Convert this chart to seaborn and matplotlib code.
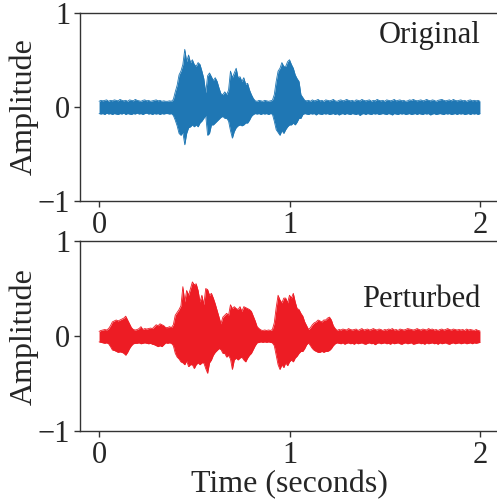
import numpy as np
import pandas as pd
import matplotlib
matplotlib.use("Agg")
import matplotlib.pyplot as plt
import seaborn as sns

# Peak envelope of each recording, sampled every 10 ms from 0 to 2 s
time_s = [round(0.01 * i, 2) for i in range(201)]

original_upper = [
    0.06, 0.07, 0.065, 0.07, 0.075, 0.06, 0.07, 0.065, 0.075, 0.07,
    0.065, 0.08, 0.07, 0.065, 0.07, 0.06, 0.075, 0.07, 0.065, 0.08,
    0.07, 0.065, 0.06, 0.07, 0.075, 0.065, 0.07, 0.06, 0.065, 0.07,
    0.075, 0.065, 0.07, 0.06, 0.065, 0.06, 0.06, 0.065, 0.06, 0.08,
    0.16, 0.23, 0.34, 0.38, 0.45, 0.61, 0.48, 0.55, 0.47, 0.50,
    0.45, 0.43, 0.47, 0.45, 0.38, 0.30, 0.15, 0.33, 0.36, 0.32,
    0.28, 0.31, 0.27, 0.20, 0.14, 0.13, 0.16, 0.13, 0.18, 0.38,
    0.31, 0.36, 0.41, 0.31, 0.32, 0.27, 0.31, 0.24, 0.25, 0.18,
    0.13, 0.09, 0.065, 0.06, 0.07, 0.065, 0.06, 0.07, 0.065, 0.06,
    0.065, 0.07, 0.13, 0.27, 0.38, 0.41, 0.47, 0.43, 0.43, 0.48,
    0.50, 0.45, 0.41, 0.34, 0.30, 0.27, 0.13, 0.10, 0.07, 0.065,
    0.07, 0.06, 0.075, 0.065, 0.07, 0.08, 0.065, 0.07, 0.06, 0.075,
    0.07, 0.065, 0.07, 0.08, 0.065, 0.06, 0.07, 0.075, 0.065, 0.07,
    0.08, 0.07, 0.065, 0.07, 0.06, 0.075, 0.07, 0.065, 0.08, 0.07,
    0.065, 0.07, 0.075, 0.06, 0.07, 0.065, 0.08, 0.07, 0.065, 0.07,
    0.06, 0.075, 0.07, 0.065, 0.07, 0.08, 0.065, 0.07, 0.075, 0.065,
    0.07, 0.06, 0.065, 0.075, 0.07, 0.08, 0.07, 0.065, 0.07, 0.075,
    0.065, 0.07, 0.08, 0.07, 0.065, 0.075, 0.07, 0.06, 0.07, 0.075,
    0.08, 0.07, 0.065, 0.07, 0.075, 0.065, 0.08, 0.07, 0.065, 0.07,
    0.075, 0.065, 0.07, 0.06, 0.07, 0.075, 0.065, 0.07, 0.065, 0.07,
    0.06,
]
original_lower = [
    -0.07, -0.075, -0.07, -0.08, -0.065, -0.075, -0.07, -0.08, -0.07, -0.075,
    -0.08, -0.07, -0.075, -0.065, -0.08, -0.07, -0.075, -0.08, -0.07, -0.075,
    -0.065, -0.075, -0.07, -0.08, -0.07, -0.065, -0.075, -0.07, -0.08, -0.07,
    -0.075, -0.07, -0.08, -0.07, -0.075, -0.07, -0.07, -0.075, -0.07, -0.09,
    -0.14, -0.20, -0.28, -0.30, -0.27, -0.40, -0.28, -0.22, -0.21, -0.19,
    -0.21, -0.19, -0.21, -0.17, -0.15, -0.12, -0.09, -0.30, -0.28, -0.19,
    -0.19, -0.17, -0.15, -0.13, -0.11, -0.10, -0.12, -0.12, -0.15, -0.25,
    -0.33, -0.26, -0.22, -0.20, -0.19, -0.20, -0.19, -0.17, -0.17, -0.14,
    -0.10, -0.08, -0.07, -0.075, -0.07, -0.08, -0.07, -0.075, -0.07, -0.08,
    -0.07, -0.075, -0.15, -0.24, -0.27, -0.30, -0.25, -0.28, -0.24, -0.21,
    -0.19, -0.19, -0.17, -0.19, -0.16, -0.12, -0.12, -0.08, -0.07, -0.075,
    -0.08, -0.07, -0.075, -0.07, -0.085, -0.07, -0.075, -0.08, -0.07, -0.075,
    -0.07, -0.08, -0.075, -0.07, -0.08, -0.07, -0.085, -0.075, -0.07, -0.08,
    -0.07, -0.075, -0.08, -0.07, -0.075, -0.08, -0.07, -0.09, -0.075, -0.07,
    -0.08, -0.07, -0.075, -0.08, -0.07, -0.075, -0.07, -0.08, -0.075, -0.07,
    -0.075, -0.08, -0.07, -0.075, -0.085, -0.07, -0.075, -0.08, -0.07, -0.075,
    -0.07, -0.08, -0.075, -0.07, -0.08, -0.075, -0.07, -0.08, -0.07, -0.075,
    -0.08, -0.07, -0.075, -0.07, -0.085, -0.075, -0.07, -0.08, -0.075, -0.07,
    -0.075, -0.08, -0.07, -0.075, -0.07, -0.08, -0.075, -0.07, -0.08, -0.07,
    -0.075, -0.07, -0.08, -0.075, -0.07, -0.08, -0.07, -0.075, -0.07, -0.08,
    -0.07,
]

perturbed_upper = [
    0.05, 0.06, 0.065, 0.07, 0.065, 0.08, 0.11, 0.15, 0.16, 0.17,
    0.16, 0.17, 0.18, 0.19, 0.21, 0.17, 0.13, 0.09, 0.07, 0.065,
    0.07, 0.08, 0.10, 0.07, 0.08, 0.075, 0.08, 0.085, 0.08, 0.10,
    0.12, 0.11, 0.13, 0.12, 0.11, 0.09, 0.09, 0.10, 0.09, 0.12,
    0.22, 0.25, 0.28, 0.32, 0.52, 0.36, 0.48, 0.43, 0.50, 0.57,
    0.54, 0.55, 0.48, 0.36, 0.43, 0.33, 0.50, 0.49, 0.43, 0.45,
    0.40, 0.34, 0.27, 0.20, 0.13, 0.20, 0.22, 0.24, 0.22, 0.33,
    0.29, 0.31, 0.29, 0.28, 0.31, 0.26, 0.31, 0.30, 0.29, 0.28,
    0.26, 0.21, 0.16, 0.10, 0.08, 0.065, 0.06, 0.065, 0.06, 0.065,
    0.06, 0.07, 0.14, 0.30, 0.43, 0.38, 0.35, 0.40, 0.40, 0.35,
    0.43, 0.40, 0.45, 0.36, 0.29, 0.28, 0.24, 0.21, 0.15, 0.11,
    0.07, 0.09, 0.12, 0.14, 0.15, 0.17, 0.16, 0.15, 0.17, 0.17,
    0.19, 0.20, 0.17, 0.11, 0.08, 0.06, 0.07, 0.065, 0.075, 0.07,
    0.065, 0.08, 0.07, 0.065, 0.07, 0.075, 0.06, 0.07, 0.08, 0.065,
    0.07, 0.075, 0.065, 0.07, 0.08, 0.07, 0.065, 0.075, 0.07, 0.06,
    0.07, 0.065, 0.075, 0.07, 0.08, 0.065, 0.07, 0.06, 0.075, 0.07,
    0.065, 0.07, 0.08, 0.075, 0.07, 0.065, 0.07, 0.08, 0.07, 0.065,
    0.075, 0.07, 0.065, 0.08, 0.07, 0.075, 0.065, 0.07, 0.06, 0.07,
    0.075, 0.065, 0.07, 0.08, 0.07, 0.065, 0.075, 0.07, 0.065, 0.07,
    0.065, 0.07, 0.06, 0.075, 0.065, 0.07, 0.065, 0.06, 0.07, 0.06,
    0.055,
]
perturbed_lower = [
    -0.06, -0.065, -0.07, -0.075, -0.07, -0.08, -0.11, -0.145, -0.15, -0.16,
    -0.17, -0.165, -0.17, -0.18, -0.20, -0.17, -0.13, -0.10, -0.08, -0.075,
    -0.075, -0.07, -0.08, -0.075, -0.07, -0.075, -0.08, -0.075, -0.085, -0.09,
    -0.10, -0.11, -0.10, -0.11, -0.09, -0.07, -0.075, -0.07, -0.075, -0.10,
    -0.18, -0.22, -0.24, -0.27, -0.28, -0.30, -0.26, -0.32, -0.30, -0.30,
    -0.34, -0.30, -0.28, -0.30, -0.28, -0.28, -0.34, -0.39, -0.28, -0.25,
    -0.20, -0.17, -0.15, -0.13, -0.14, -0.18, -0.18, -0.22, -0.20, -0.24,
    -0.35, -0.25, -0.23, -0.25, -0.23, -0.22, -0.25, -0.27, -0.23, -0.20,
    -0.18, -0.14, -0.10, -0.07, -0.065, -0.06, -0.065, -0.06, -0.065, -0.06,
    -0.065, -0.07, -0.10, -0.20, -0.30, -0.35, -0.30, -0.33, -0.28, -0.31,
    -0.27, -0.25, -0.27, -0.23, -0.21, -0.18, -0.16, -0.16, -0.13, -0.09,
    -0.07, -0.10, -0.13, -0.15, -0.16, -0.17, -0.17, -0.16, -0.17, -0.16,
    -0.16, -0.15, -0.13, -0.10, -0.08, -0.07, -0.075, -0.08, -0.07, -0.085,
    -0.075, -0.07, -0.08, -0.075, -0.085, -0.07, -0.08, -0.075, -0.07, -0.08,
    -0.085, -0.075, -0.07, -0.08, -0.075, -0.09, -0.075, -0.07, -0.08, -0.075,
    -0.07, -0.08, -0.075, -0.085, -0.07, -0.08, -0.075, -0.07, -0.08, -0.085,
    -0.075, -0.07, -0.08, -0.075, -0.07, -0.085, -0.08, -0.075, -0.07, -0.08,
    -0.075, -0.085, -0.07, -0.08, -0.075, -0.07, -0.08, -0.075, -0.085, -0.07,
    -0.08, -0.075, -0.07, -0.08, -0.085, -0.075, -0.07, -0.08, -0.075, -0.07,
    -0.08, -0.075, -0.07, -0.08, -0.075, -0.07, -0.08, -0.07, -0.075, -0.07,
    -0.065,
]

panel_titles = ["Original", "Perturbed"]
panel_colors = ["#1f77b4", "#ed1c24"]
y_ticks = [-1, 0, 1]
x_ticks = [0, 1, 2]

sns.set_theme(style="white")
plt.rcParams["font.family"] = ["Liberation Serif", "DejaVu Serif"]
plt.rcParams["axes.edgecolor"] = "#333333"
plt.rcParams["axes.linewidth"] = 1.0

fig = plt.figure(figsize=(4.97, 5.01), dpi=100)
ax_top = fig.add_axes([0.161, 0.598, 0.843, 0.377])
ax_bot = fig.add_axes([0.161, 0.139, 0.843, 0.380])

panels = [
    (ax_top, original_upper, original_lower, 0.88),
    (ax_bot, perturbed_upper, perturbed_lower, 0.695),
]

for i, (ax, upper, lower, label_y) in enumerate(panels):
    df = pd.DataFrame({"time": time_s, "upper": upper, "lower": lower})
    color = panel_colors[i]
    ax.fill_between(df["time"], df["lower"], df["upper"], color=color,
                    linewidth=0)
    sns.lineplot(data=df, x="time", y="upper", ax=ax, color=color,
                 linewidth=0.6)
    sns.lineplot(data=df, x="time", y="lower", ax=ax, color=color,
                 linewidth=0.6)
    ax.set_xlim(-0.1, 2.1)
    ax.set_ylim(-1, 1)
    ax.set_xticks(x_ticks)
    ax.set_yticks(y_ticks)
    ax.tick_params(axis="both", labelsize=22, length=4, width=1,
                   direction="out", color="#333333", pad=3,
                   bottom=True, left=True)
    ax.set_ylabel("Amplitude", fontsize=23, labelpad=-1)
    ax.set_xlabel("")
    ax.text(0.955, label_y, panel_titles[i], transform=ax.transAxes,
            ha="right", va="center", fontsize=22, color="#222222")
    for side in ["top", "bottom", "left", "right"]:
        ax.spines[side].set_visible(True)

ax_bot.set_xlabel("Time (seconds)", fontsize=23, labelpad=0)

fig.savefig("out.png", dpi=100)
